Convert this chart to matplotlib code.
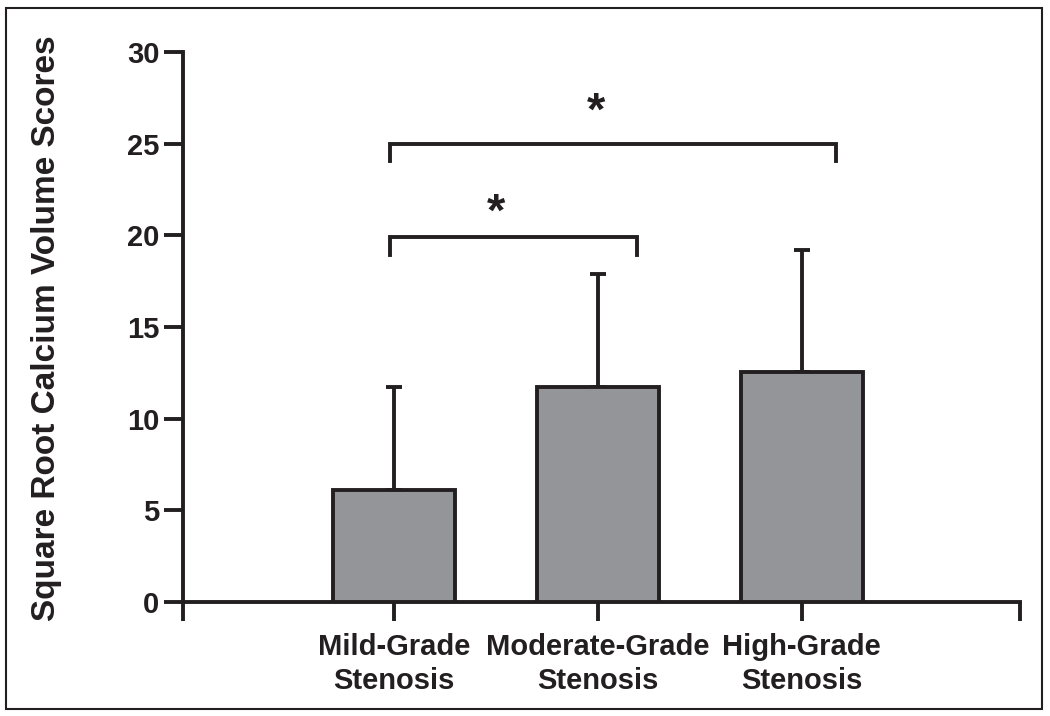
import matplotlib.pyplot as plt
from matplotlib.patches import Rectangle

# --- DATA ---
categories = ["Mild-Grade\nStenosis", "Moderate-Grade\nStenosis", "High-Grade\nStenosis"]
means = [6.1, 11.75, 12.55]
sd_upper = [5.65, 6.15, 6.65]
y_ticks = [0, 5, 10, 15, 20, 25, 30]

# Signifikanz-Klammern: (x_links, x_rechts, y_oben, y_unten, stern_x, stern_y)
brackets = [
    (-0.02, 1.19, 19.9, 18.95, 0.5, 21.2),
    (-0.02, 2.17, 25.0, 24.05, 0.99, 26.7),
]

# --- STYLE ---
plt.rcParams['font.family'] = ['Liberation Sans', 'DejaVu Sans']
plt.rcParams['font.weight'] = 'bold'
ink = '#231f20'
bar_gray = '#939598'
lw = 2.8

fig = plt.figure(figsize=(10.5, 7.16), dpi=100)
ax = fig.add_axes([183 / 1050, 1 - 602 / 716, (1020 - 183) / 1050, 550 / 716])

x = list(range(len(categories)))
ax.bar(x, means, width=0.6, color=bar_gray, edgecolor=ink, linewidth=lw, zorder=3)
ax.errorbar(x, means, yerr=[[0] * len(means), sd_upper], fmt='none', ecolor=ink,
            elinewidth=lw, capsize=6, capthick=lw, zorder=2)

for xl, xr, yt, yb, sx, sy in brackets:
    ax.plot([xl, xl, xr, xr], [yb, yt, yt, yb], color=ink, lw=lw,
            solid_joinstyle='miter', clip_on=False)
    ax.text(sx, sy, '*', ha='center', va='center', fontsize=34, color=ink, fontweight='bold')

xmin, xmax = -1.035, 3.07
ax.set_xlim(xmin, xmax)
ax.set_ylim(0, 30)
ax.set_xticks([xmin] + x + [xmax])
ax.set_xticklabels([''] + categories + [''], fontsize=21, fontweight='bold', color=ink,
                   linespacing=1.3)
ax.set_yticks(y_ticks)
ax.set_yticklabels([str(t) for t in y_ticks], fontsize=21, fontweight='bold', color=ink)

for s in ['top', 'right']:
    ax.spines[s].set_visible(False)
for s in ['left', 'bottom']:
    ax.spines[s].set_linewidth(lw)
    ax.spines[s].set_color(ink)
ax.tick_params(axis='both', width=lw, length=14, color=ink)
ax.tick_params(axis='y', pad=3)
ax.tick_params(axis='x', pad=8)

fig.text(47 / 1050, 1 - 328 / 716, 'Square Root Calcium Volume Scores', rotation=90,
         ha='center', va='center', fontsize=24, fontweight='bold', color=ink)

# Rahmen um die ganze Abbildung
fig.patches.append(Rectangle((6 / 1050, 7 / 716), 1036 / 1050, 701 / 716,
                             transform=fig.transFigure, fill=False, edgecolor=ink, lw=1.5))

fig.savefig('out.png', dpi=100)
